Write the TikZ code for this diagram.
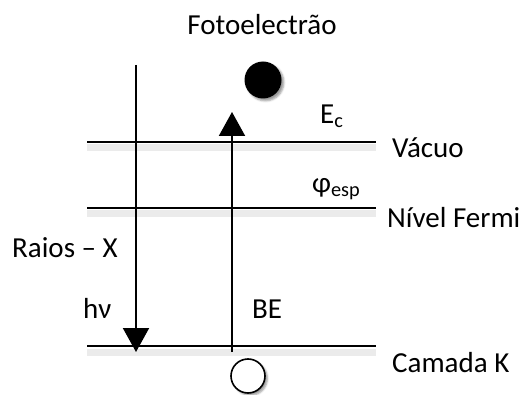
\documentclass[tikz,border=0pt]{standalone}
\usepackage{fontspec}
\setmainfont{Carlito}
\usetikzlibrary{arrows.meta,shadows.blur}

\begin{document}
\begin{tikzpicture}[x=1pt,y=1pt,
  lvl/.style={line width=2pt,preaction={draw=black!8,line width=7pt,transform canvas={yshift=-6pt}}},
  ray/.style={line width=2pt,-{Triangle[width=26pt,length=24pt]}},
  lbl/.style={anchor=base west,inner sep=0pt,font=\fontsize{29}{34}\selectfont}]
  \useasboundingbox (0,0) rectangle (522,394);
  % energy levels
  \coordinate (vacL) at (87,252);  \coordinate (vacR) at (376,252);
  \coordinate (ferL) at (87,186);  \coordinate (ferR) at (376,186);
  \coordinate (kL)   at (87,48);   \coordinate (kR)   at (376,48);
  \draw[lvl] (vacL) -- (vacR);
  \draw[lvl] (ferL) -- (ferR);
  \draw[lvl] (kL) -- (kR);
  \node[lbl] (vac) at (392,236) {Vácuo};
  \node[lbl] (fer) at (387,166) {Nível Fermi};
  \node[lbl] (kshell) at (392,22) {Camada K};
  % photon and photoelectron
  \coordinate (hvTop) at (136,329); \coordinate (hvEnd) at (136,42);
  \coordinate (beBot) at (232,42);  \coordinate (beTop) at (232,282);
  \draw[ray] (hvTop) -- (hvEnd);
  \draw[ray] (beBot) -- (beTop);
  \node[circle,fill,inner sep=0pt,minimum size=37pt,blur shadow] (elec) at (263,314) {};
  \node[circle,draw,fill=white,line width=1.6pt,inner sep=0pt,minimum size=34pt,blur shadow] (hole) at (248,18) {};
  \node[lbl,anchor=base] (foto) at (262,359) {Fotoelectrão};
  \node[lbl] (ec) at (320,270) {E\textsubscript{c}};
  \node[lbl] (phi) at (312,201) {φ\textsubscript{esp}};
  \node[lbl] (raios) at (12,137) {Raios – X};
  \node[lbl] (hv) at (83,76) {hν};
  \node[lbl] (be) at (252,76) {BE};
\end{tikzpicture}
\end{document}
